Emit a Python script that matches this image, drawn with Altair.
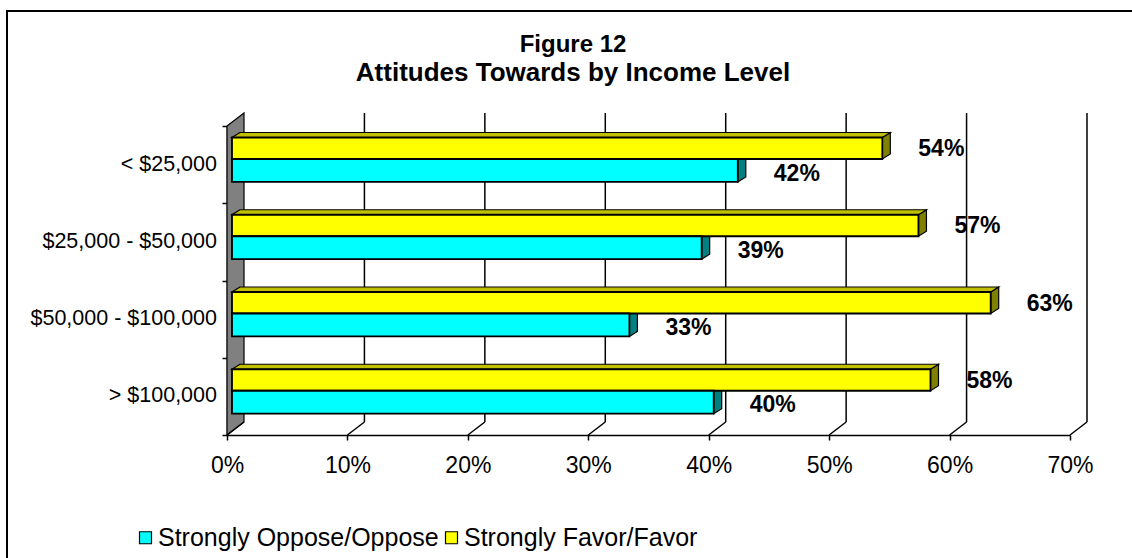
import altair as alt
import pandas as pd

# ---------------- data ----------------
categories = ["< $25,000", "$25,000 - $50,000", "$50,000 - $100,000", "> $100,000"]
oppose = [42, 39, 33, 40]
favor = [54, 57, 63, 58]
series_names = ["Strongly Oppose/Oppose", "Strongly Favor/Favor"]
x_ticks = [0, 10, 20, 30, 40, 50, 60, 70]
title_lines = ["Figure 12", "Attitudes Towards by Income Level"]

# ---------------- geometry / style ----------------
FONT = "Liberation Sans"
W, H = 843, 309
XMAX = 70
NCAT = len(categories)
PXX = W / XMAX
PXY = H / NCAT
BAR_X0 = 5 / PXX
BAR_DX = 8 / PXX
BAR_DY = 5 / PXY
WALL_DX = 17 / PXX
WALL_DY = 13 / PXY
Y_TOP, Y_MID, Y_BOT = 0.149, 0.427, 0.724

CYAN, YELLOW = "#00FFFF", "#FFFF00"
CYAN_SIDE, YELLOW_SIDE, YELLOW_TOP = "#008080", "#808000", "#C0C000"

x_scale = alt.Scale(domain=[0, XMAX], nice=False, zero=False)
y_scale = alt.Scale(domain=[0, NCAT], nice=False, zero=False, reverse=True)
x_axis = alt.Axis(values=x_ticks, labelExpr="datum.value + '%'", grid=False, title=None,
                  domainColor="black", domainWidth=1.5, tickColor="black", tickWidth=1.5,
                  tickSize=5, labelFont=FONT, labelFontSize=23, labelColor="black",
                  labelPadding=14, labelFlush=False, labelOverlap=False)
y_axis = alt.Axis(values=list(range(NCAT + 1)), labels=False, grid=False, title=None,
                  domainColor="black", domainWidth=1.5, tickColor="black", tickWidth=1.5,
                  tickSize=5)


def X(f):
    return alt.X(f, type="quantitative", scale=x_scale, axis=x_axis)


def Y(f):
    return alt.Y(f, type="quantitative", scale=y_scale, axis=y_axis, stack=None)


# ---------------- derived tables ----------------
front, tops, sides, dlabels = [], [], [], []
for i, cat in enumerate(categories):
    for s, v, y0, y1, side_col, ly in [
        (series_names[1], favor[i], i + Y_TOP, i + Y_MID, YELLOW_SIDE, i + 0.30),
        (series_names[0], oppose[i], i + Y_MID, i + Y_BOT, CYAN_SIDE, i + 0.615),
    ]:
        e = BAR_X0 + v
        front.append(dict(x=BAR_X0, x2=e, y=y0, y2=y1, series=s))
        bid = f"{i}-{s}"
        sides.append(dict(id=bid, x=e, y=y0, y2=y1, c=side_col))
        sides.append(dict(id=bid, x=e + BAR_DX, y=y0 - BAR_DY, y2=y1 - BAR_DY, c=side_col))
        dlabels.append(dict(x=e, y=ly, t=f"{v}%"))
        if s == series_names[1]:
            tops.append(dict(id=bid, y=y0, x=BAR_X0, x2=e))
            tops.append(dict(id=bid, y=y0 - BAR_DY, x=BAR_X0 + BAR_DX, x2=e + BAR_DX))

wall = pd.DataFrame([dict(x=0, y=0, y2=NCAT), dict(x=WALL_DX, y=-WALL_DY, y2=NCAT - WALL_DY)])
back_grid = pd.DataFrame([dict(x=k + WALL_DX, x2=k + WALL_DX, y=-WALL_DY, y2=NCAT - WALL_DY)
                          for k in x_ticks[1:]])
floor_grid = pd.DataFrame([dict(x=k, x2=k + WALL_DX, y=NCAT, y2=NCAT - WALL_DY) for k in x_ticks])
cat_df = pd.DataFrame(dict(cat=categories, y=[i + 0.5 for i in range(NCAT)]))

# ---------------- layers ----------------
border = alt.Chart(pd.DataFrame({"a": [0]})).mark_rect(
    filled=False, stroke="black", strokeWidth=2
).encode(x=alt.value(7 - 227), x2=alt.value(1132 - 227 + 20),
         y=alt.value(11 - 126), y2=alt.value(558 - 126 + 20))

wall_l = alt.Chart(wall).mark_area(orient="vertical", fill="#808080", stroke="black",
                                   strokeWidth=1.2).encode(
    x=X("x"), y=Y("y"), y2="y2")

back_l = alt.Chart(back_grid).mark_rule(color="black", strokeWidth=1.5).encode(
    x=X("x"), x2="x2", y=Y("y"), y2="y2")
floor_l = alt.Chart(floor_grid).mark_rule(color="black", strokeWidth=1.5).encode(
    x=X("x"), x2="x2", y=Y("y"), y2="y2")

sides_l = alt.Chart(pd.DataFrame(sides)).mark_area(orient="vertical", stroke="black",
                                                   strokeWidth=1.2).encode(
    x=X("x"), y=Y("y"), y2="y2", detail="id:N",
    color=alt.Color("c:N", scale=None))
tops_l = alt.Chart(pd.DataFrame(tops)).mark_area(orient="horizontal", fill=YELLOW_TOP,
                                                 stroke="black", strokeWidth=1.2).encode(
    y=Y("y"), x=X("x"), x2="x2", detail="id:N")

front_l = alt.Chart(pd.DataFrame(front)).mark_rect(stroke="black", strokeWidth=1.8).encode(
    x=X("x"), x2="x2", y=Y("y"), y2="y2",
    color=alt.Color("series:N",
                    scale=alt.Scale(domain=series_names, range=[CYAN, YELLOW]),
                    legend=alt.Legend(orient="none", legendX=133 - 227, legendY=399,
                                      direction="horizontal", title=None,
                                      symbolType="square", symbolSize=144,
                                      symbolStrokeColor="black", symbolStrokeWidth=1.2,
                                      labelFont=FONT, labelFontSize=25, labelColor="black",
                                      labelOffset=0, columnPadding=0, labelLimit=500,
                                      padding=0)))

dlab_l = alt.Chart(pd.DataFrame(dlabels)).mark_text(
    align="left", baseline="middle", dx=36, font=FONT, fontSize=23, fontWeight="bold",
    color="black").encode(x=X("x"), y=Y("y"), text="t:N")

cat_l = alt.Chart(cat_df).mark_text(align="right", baseline="middle", font=FONT,
                                    fontSize=21.5, color="black").encode(
    x=alt.value(-10), y=Y("y"), text="cat:N")

title_df = pd.DataFrame(dict(t=title_lines, yy=[45 - 126, 73 - 126], fs=[24, 26]))
title_l = alt.Chart(title_df).mark_text(align="center", baseline="middle", font=FONT,
                                        fontWeight="bold", color="black").encode(
    x=alt.value(573 - 227), y=alt.Y("yy:Q", scale=None), text="t:N",
    size=alt.Size("fs:Q", scale=None, legend=None))

chart = alt.layer(border, wall_l, back_l, floor_l, sides_l, tops_l, front_l, dlab_l,
                  cat_l, title_l).properties(
    width=W, height=H,
    padding={"left": 227, "top": 126, "right": 62, "bottom": 123},
    autosize=alt.AutoSizeParams(type="none"),
).configure(background="white", view=alt.ViewConfig(stroke=None))

chart.save("out.html", embed_options={"renderer": "svg", "actions": False})
